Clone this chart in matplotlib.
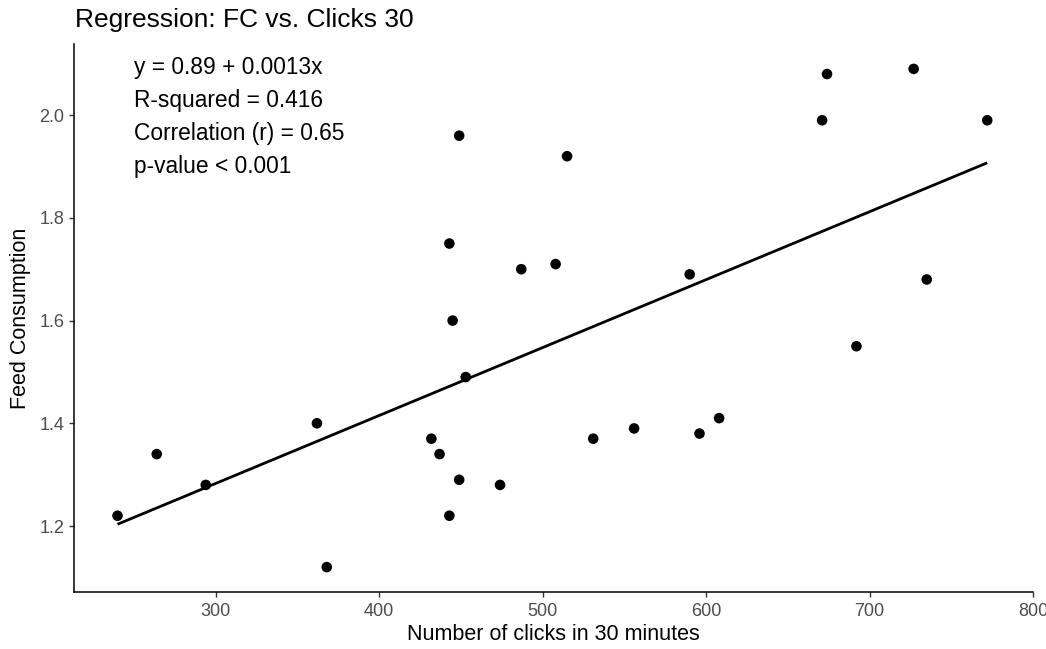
import numpy as np
import matplotlib
matplotlib.use("Agg")
import matplotlib.pyplot as plt

plt.rcParams['font.family'] = ['Liberation Sans', 'DejaVu Sans']

# Clicks in 30 minutes and feed consumption per animal
clicks = [240, 264, 294, 362, 368, 432, 437, 443, 443, 445, 449, 449, 453, 474,
          487, 508, 515, 531, 556, 590, 596, 608, 671, 674, 692, 727, 735, 772]
fc = [1.22, 1.34, 1.28, 1.40, 1.12, 1.37, 1.34, 1.75, 1.22, 1.60, 1.96, 1.29, 1.49, 1.28,
      1.70, 1.71, 1.92, 1.37, 1.39, 1.69, 1.38, 1.41, 1.99, 2.08, 1.55, 2.09, 1.68, 1.99]

x_ticks = [300, 400, 500, 600, 700, 800]
y_ticks = [1.2, 1.4, 1.6, 1.8, 2.0]

x = np.array(clicks, dtype=float)
y = np.array(fc, dtype=float)

slope, intercept = np.polyfit(x, y, 1)
r = np.corrcoef(x, y)[0, 1]

stats_lines = [
    f"y = {intercept:.2f} + {slope:.4f}x",
    f"R-squared = {r**2:.3f}",
    f"Correlation (r) = {r:.2f}",
    "p-value < 0.001",
]

W, H = 1046, 649
fig = plt.figure(figsize=(W / 100, H / 100), dpi=100)
ax = fig.add_axes([74 / W, 1 - 592 / H, (1033 - 74) / W, (592 - 44) / H])

xs = np.array([x.min(), x.max()])
ax.plot(xs, intercept + slope * xs, color='black', lw=2.0, solid_capstyle='butt', zorder=2)
ax.scatter(x, y, s=58, color='black', edgecolors='none', zorder=3)

# 5% padding on both axes
xr = x.max() - x.min()
yr = y.max() - y.min()
ax.set_xlim(x.min() - 0.05 * xr, x.max() + 0.05 * xr)
ax.set_ylim(y.min() - 0.05 * yr, y.max() + 0.05 * yr)

ax.set_xticks(x_ticks)
ax.set_yticks(y_ticks)
ax.set_yticklabels([f"{v:.1f}" for v in y_ticks])
ax.tick_params(axis='both', length=3.6, width=1.0, color='#333333', labelcolor='#4D4D4D',
               labelsize=13)
ax.tick_params(axis='x', pad=4.0)
ax.tick_params(axis='y', pad=3.5)

for side in ['top', 'right']:
    ax.spines[side].set_visible(False)
for side in ['left', 'bottom']:
    ax.spines[side].set_linewidth(1.1)
    ax.spines[side].set_color('black')

ax.set_xlabel("Number of clicks in 30 minutes", fontsize=15.5, labelpad=3)
ax.set_ylabel("Feed Consumption", fontsize=15.5, labelpad=6)
fig.text(75 / W, 1 - 27 / H, "Regression: FC vs. Clicks 30", fontsize=19,
         ha='left', va='baseline')

for i, line in enumerate(stats_lines):
    fig.text(134 / W, 1 - (74 + 33 * i) / H, line, fontsize=16.4,
             ha='left', va='baseline', color='black')

fig.savefig("out.png", dpi=100)
